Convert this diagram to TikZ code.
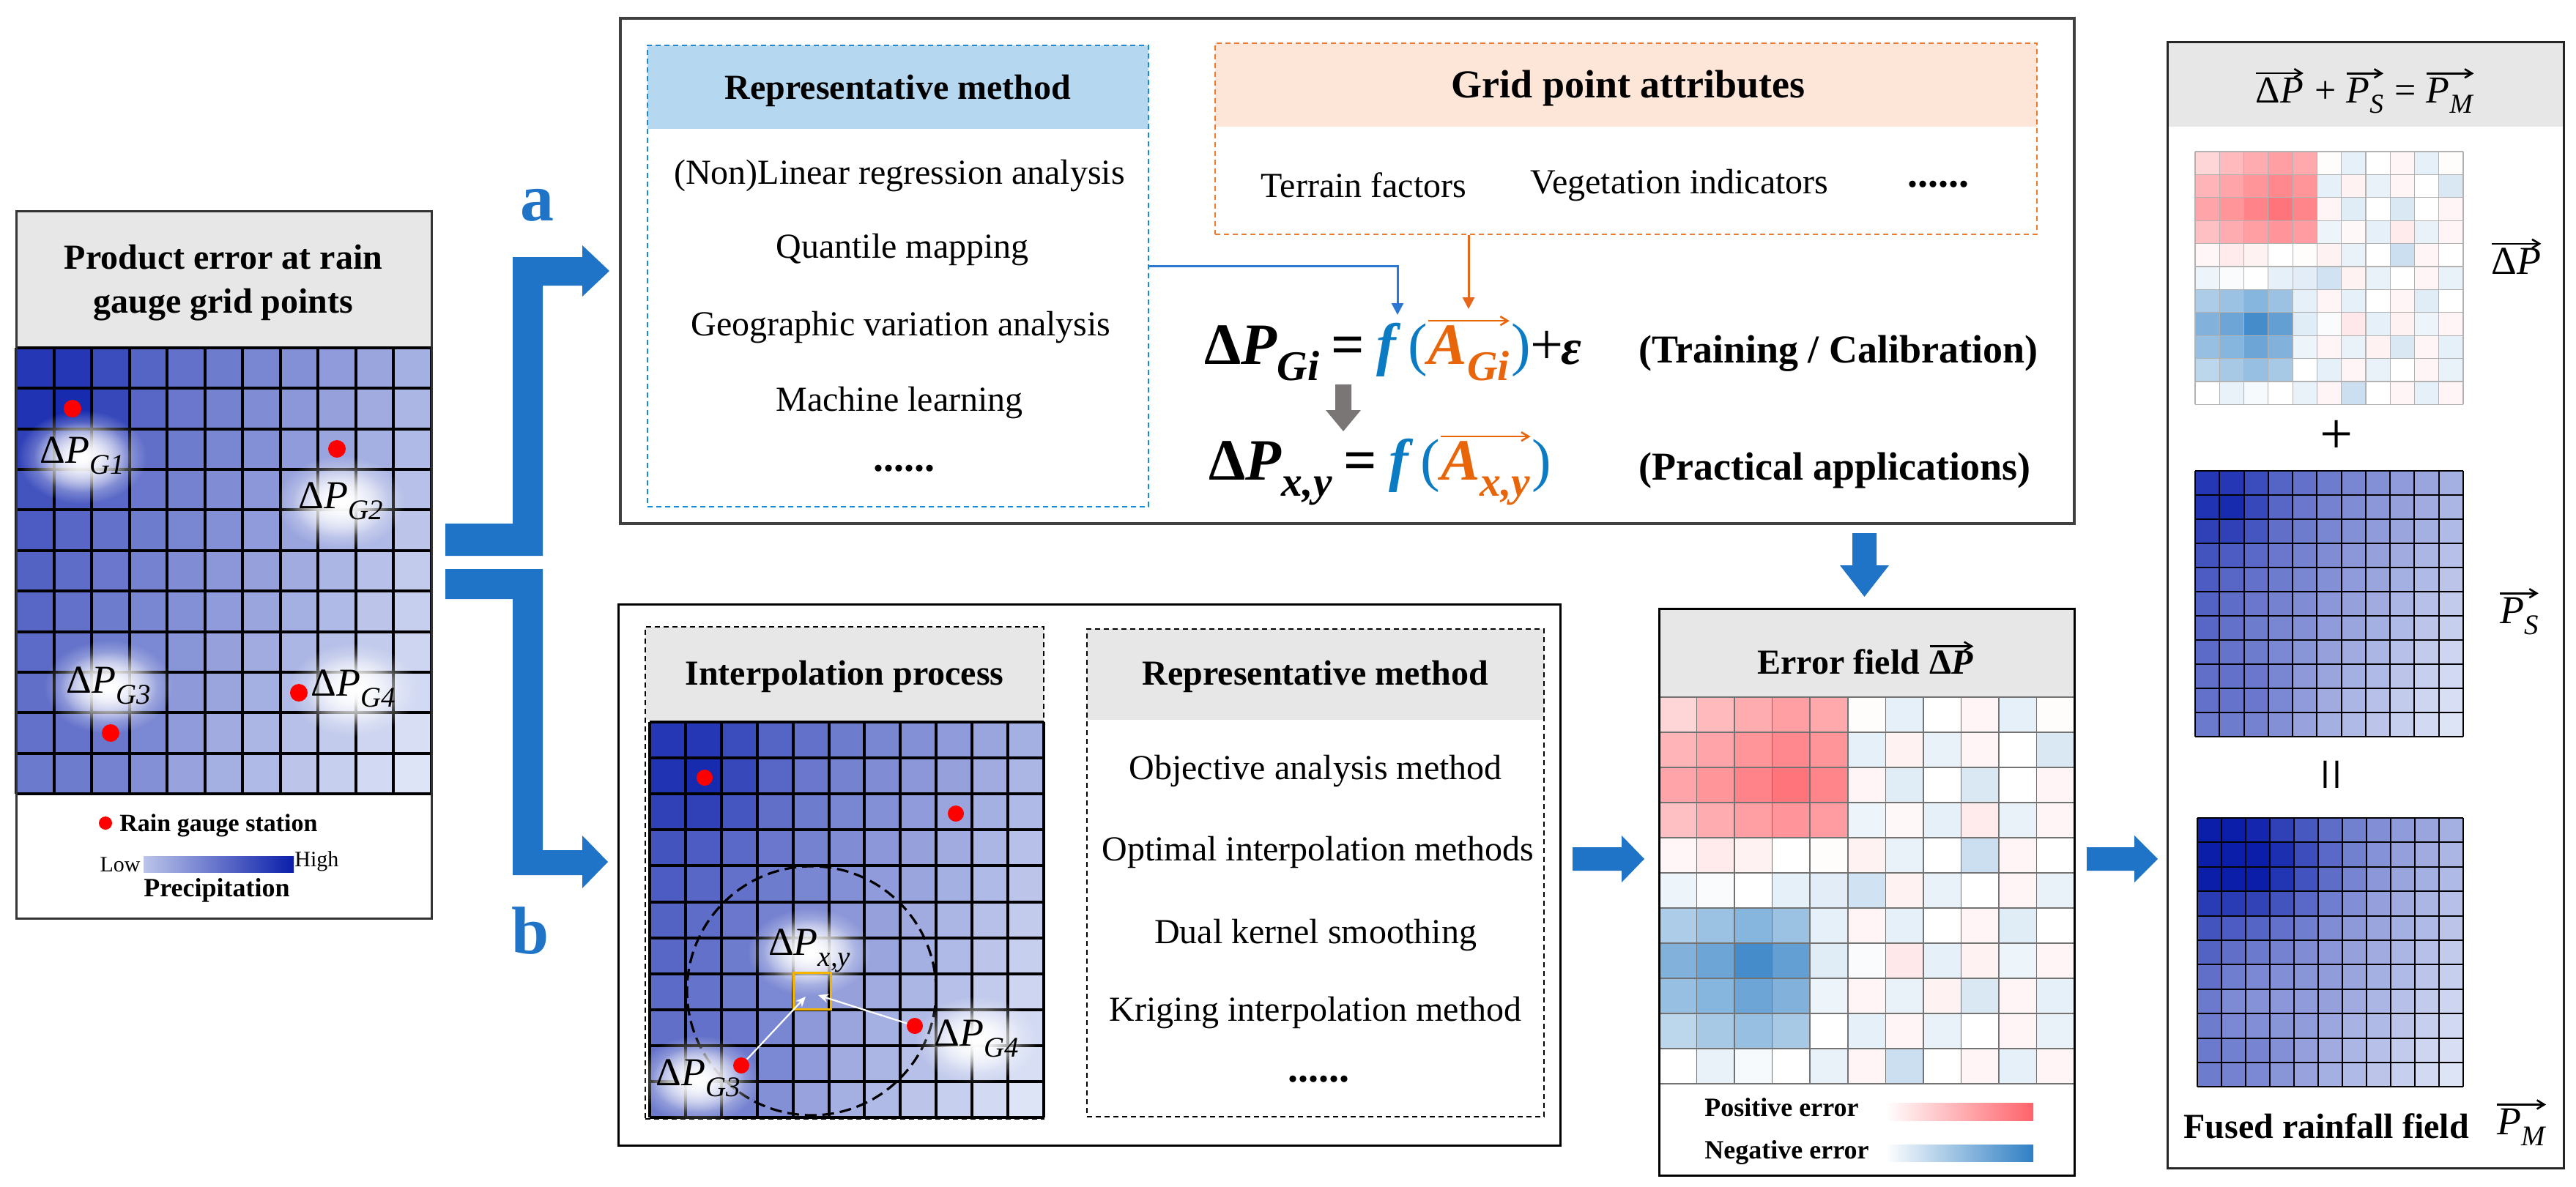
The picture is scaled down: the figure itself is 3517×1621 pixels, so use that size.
\documentclass[tikz,border=0pt]{standalone}
\usepackage{fontspec}
\setmainfont{Liberation Serif}
\usepackage{graphicx}
\usetikzlibrary{arrows.meta,fit,calc,fadings}

\definecolor{pdark}{HTML}{0A1EAA}
\definecolor{plight}{HTML}{E8EEFA}
\definecolor{errred}{HTML}{FF5A62}
\definecolor{errblue}{HTML}{2F7FC4}
\definecolor{arrowblue}{HTML}{1F74C8}
\definecolor{dashblue}{HTML}{1A8AD4}
\definecolor{dashorange}{HTML}{F07A2A}
\definecolor{hdrblue}{HTML}{B5D8F0}
\definecolor{hdrorange}{HTML}{FDE6D8}
\definecolor{hdrgray}{HTML}{E7E7E7}
\definecolor{fblue}{HTML}{0B7BC4}
\definecolor{aorange}{HTML}{E8650A}
\definecolor{conblue}{HTML}{2A78D2}
\definecolor{conorange}{HTML}{E8661A}
\definecolor{arrgray}{HTML}{7B7676}
\definecolor{ybox}{HTML}{F5B400}

\tikzfading[name=glowfade, inner color=transparent!0, outer color=transparent!100]

\newcommand\fsbody{\fontsize{24}{28}\selectfont}
\newcommand\fstitle{\fontsize{24}{30}\selectfont\bfseries}
\newcommand\fseq{\fontsize{40}{48}\selectfont}
\newcommand\fseqt{\fontsize{27}{32}\selectfont\bfseries}
\newcommand\fslab{\fontsize{27}{32}\selectfont}

\newcommand\bi[1]{\textbf{\textit{#1}}}
\newcommand\lsub[1]{\raisebox{-0.28em}{\scalebox{0.72}{#1}}}
\newcommand\dP[1]{Δ\textit{P}\lsub{\textit{#1}}}
\newcommand\vecarrow[2][black]{\tikz[baseline=(vecin.base)]{\node[inner sep=0pt,outer sep=0pt] (vecin) {#2};\draw[#1,line width=1.3pt,-{Straight Barb[length=5pt,width=6pt]}] ([yshift=3pt]vecin.north west) -- ([yshift=3pt]vecin.north east);}}

% precipitation grid: x0,y0,w,h,linewidth,mode
\newcommand\pgrid[6]{%
  \foreach \pr in {0,...,10}{%
    \foreach \pc in {0,...,10}{%
      \pgfmathtruncatemacro\pgs{max(0,min(100, 80 - 5*\pc - 2.5*\pr
        + 22*exp(max(-9,-((\pc-1)^2+(\pr-1)^2)/2))
        + 10*exp(max(-9,-((\pc-2)^2+(\pr-9)^2)/3))
        + #6*(32*exp(max(-9,-((\pc-2)^2/10+(\pr-1.5)^2/4))) - 12*exp(max(-9,-((\pc-1.5)^2/4+(\pr-7.5)^2/4))))))}%
      \fill[pdark!\pgs!plight] ({#1+\pc*#3},{#2+\pr*#4}) rectangle ++(#3,#4);
    }%
  }%
  \foreach \i in {0,...,11}{%
    \draw[black,line width=#5] ({#1+\i*#3},#2) -- ({#1+\i*#3},{#2+11*#4});
    \draw[black,line width=#5] (#1,{#2+\i*#4}) -- ({#1+11*#3},{#2+\i*#4});
  }%
}

% error grid: x0,y0,w,h,linecolor,linewidth
\newcommand\egrid[6]{%
  \foreach \erow [count=\pr from 0] in {%
    {25,42,50,58,52,2,-12,0,6,-12,2},%
    {45,55,65,72,65,-12,8,-10,6,0,-18},%
    {55,65,75,85,74,6,-15,0,-18,0,6},%
    {38,50,58,64,60,-8,4,-12,12,-10,6},%
    {5,12,8,0,2,8,-10,0,-25,6,0},%
    {-8,-3,0,-12,-14,-22,8,-10,0,6,-10},%
    {-40,-48,-58,-48,-12,6,-12,0,6,-15,0},%
    {-60,-70,-90,-75,-15,-3,14,-12,8,-8,6},%
    {-50,-58,-70,-60,-8,6,-10,8,-18,6,-12},%
    {-32,-42,-50,-42,0,-12,6,-10,0,6,-10},%
    {0,-10,-4,0,-10,6,-25,0,6,-12,6}}{%
    \foreach \ev [count=\pc from 0] in \erow {%
      \pgfmathtruncatemacro\ea{abs(\ev)}%
      \ifnum\ev<0 \def\ecol{errblue}\else\def\ecol{errred}\fi
      \fill[\ecol!\ea!white] ({#1+\pc*#3},{#2+\pr*#4}) rectangle ++(#3,#4);
    }%
  }%
  \foreach \i in {0,...,11}{%
    \draw[#5,line width=#6] ({#1+\i*#3},#2) -- ({#1+\i*#3},{#2+11*#4});
    \draw[#5,line width=#6] (#1,{#2+\i*#4}) -- ({#1+11*#3},{#2+\i*#4});
  }%
}

\newcommand\glow[4]{%
  \fill[white, path fading=glowfade] (#1,#2) ellipse [x radius={#3pt}, y radius={#4pt}];
  \fill[white, path fading=glowfade] (#1,#2) ellipse [x radius={0.75*#3pt}, y radius={0.75*#4pt}];
}

\begin{document}
\begin{tikzpicture}[x=0.5pt,y=-0.5pt,
  panel/.style={inner sep=0pt, draw=black!80, line width=1.5pt},
  dashbox/.style={inner sep=0pt, line width=1.3pt, dash pattern=on 3.5pt off 2.5pt},
  reddot/.style={circle, fill=red, inner sep=0pt, minimum size=12pt},
  smalldot/.style={circle, fill=red, inner sep=0pt, minimum size=11pt},
  whitearrow/.style={white, line width=1.1pt, -{Stealth[length=7pt,width=6pt]}},
  bluecon/.style={conblue, line width=1.5pt, -{Triangle[length=8pt,width=8pt]}},
  orangecon/.style={conorange, line width=1.5pt, -{Triangle[length=8pt,width=8pt]}},
  titletext/.style={font=\fstitle, inner sep=0pt},
  bodytext/.style={font=\fsbody, inner sep=0pt},
  lab/.style={font=\fslab, inner sep=0pt}]
\useasboundingbox (0,0) rectangle (3517,1621);

% ================= left panel =================
\fill[hdrgray] (22,289) rectangle (589,475);
\pgrid{22}{475}{51.545}{55.36}{2pt}{0}
\node[panel, fit={(22,289)(589,1254)}] (leftpanel) {};
\node[titletext, align=center] (lefttitle) at (305,386) {Product error at rain\\gauge grid points};
\glow{112}{624}{44}{32}
\glow{465}{686}{44}{32}
\glow{148}{938}{44}{32}
\glow{482}{942}{44}{32}
\node[reddot] (g1) at (99,558) {};
\node[reddot] (g2) at (460,613) {};
\node[reddot] (g3) at (151,1001) {};
\node[reddot] (g4) at (408,946) {};
\node[lab] (lg1) at (112,622) {\dP{G1}};
\node[lab] (lg2) at (465,684) {\dP{G2}};
\node[lab] (lg3) at (148,936) {\dP{G3}};
\node[lab] (lg4) at (482,940) {\dP{G4}};
\node[circle, fill=red, inner sep=0pt, minimum size=9pt] (legdot) at (144,1124) {};
\node[anchor=west, font=\fontsize{17}{20}\selectfont\bfseries, inner sep=0pt] (legrain) at (163,1127) {Rain gauge station};
\shade[left color=pdark!20!plight, right color=pdark] (196,1169) rectangle (401,1191);
\node[anchor=east, font=\fontsize{15}{18}\selectfont, inner sep=0pt] (leglow) at (192,1181) {Low};
\node[anchor=west, font=\fontsize{15}{18}\selectfont, inner sep=0pt] (leghigh) at (402,1176) {High};
\node[font=\fontsize{18}{21}\selectfont\bfseries, inner sep=0pt] (legprec) at (296,1216) {Precipitation};

% ================= fork arrows =================
\fill[arrowblue] (608,715) -- (700,715) -- (700,351) -- (795,351) -- (795,335) -- (832,370) -- (795,405) -- (795,390) -- (741,390) -- (741,759) -- (608,759) -- cycle;
\fill[arrowblue] (608,777) -- (741,777) -- (741,1161) -- (795,1161) -- (795,1141) -- (830,1177) -- (795,1213) -- (795,1195) -- (700,1195) -- (700,818) -- (608,818) -- cycle;
\node[text=arrowblue, font=\fontsize{46}{50}\selectfont\bfseries, inner sep=0pt] (la) at (733,280) {a};
\node[text=arrowblue, font=\fontsize{46}{50}\selectfont\bfseries, inner sep=0pt] (lb) at (724,1271) {b};

% ================= top panel (a) =================
\node[panel, draw=black!75, line width=1.75pt, fit={(847,25)(2832,715)}] (toppanel) {};
\fill[hdrblue] (884,62) rectangle (1568,176);
\node[dashbox, draw=dashblue, fit={(884,62)(1568,692)}] (bluebox) {};
\node[titletext] (bluetitle) at (1226,124) {Representative method};
\node[bodytext] (m1) at (1228,240) {(Non)Linear regression analysis};
\node[bodytext] (m2) at (1232,341) {Quantile mapping};
\node[bodytext] (m3) at (1230,447) {Geographic variation analysis};
\node[bodytext] (m4) at (1228,550) {Machine learning};
\node[bodytext, font=\fontsize{28}{30}\selectfont\bfseries] (m5) at (1234,640) {......};

\fill[hdrorange] (1659,59) rectangle (2781,173);
\node[dashbox, draw=dashorange, fit={(1659,59)(2781,320)}] (orangebox) {};
\node[titletext, font=\fontsize{27}{32}\selectfont\bfseries] (orangetitle) at (2223,121) {Grid point attributes};
\node[bodytext] (a1) at (1862,253) {Terrain factors};
\node[bodytext] (a2) at (2293,253) {Vegetation indicators};
\node[bodytext, font=\fontsize{28}{30}\selectfont\bfseries] (a3) at (2646,252) {......};

\node[anchor=base west, font=\fseq, inner sep=0pt] (eqone) at (1644,497)
  {\bfseries Δ\bi{P}\lsub{\bi{Gi}}\hspace{0.2em}=\hspace{0.2em}\textcolor{fblue}{\bi{f}\hspace{0.12em}{\mdseries(}}\vecarrow[aorange]{\textcolor{aorange}{\bi{A}\lsub{\bi{Gi}}}}\textcolor{fblue}{\mdseries)}{\mdseries+}\hspace{-0.04em}\scalebox{0.85}{\bi{ε}}};
\node[anchor=base west, font=\fseqt, inner sep=0pt] (eqonelab) at (2237,495) {(Training / Calibration)};
\node[anchor=base west, font=\fseq, inner sep=0pt] (eqtwo) at (1650,655)
  {\bfseries Δ\bi{P}\lsub{\bi{x,y}}\hspace{0.2em}=\hspace{0.2em}\textcolor{fblue}{\bi{f}\hspace{0.12em}{\mdseries(}}\vecarrow[aorange]{\textcolor{aorange}{\bi{A}\lsub{\bi{x,y}}}}\textcolor{fblue}{\mdseries)}};
\node[anchor=base west, font=\fseqt, inner sep=0pt] (eqtwolab) at (2237,655) {(Practical applications)};
\fill[arrgray] (1823,525) -- (1845,525) -- (1845,560) -- (1858,560) -- (1834,589) -- (1810,560) -- (1823,560) -- cycle;

\coordinate (fpt) at (1908,430);
\coordinate (apt) at (2005,422);
\draw[bluecon] ([yshift=7pt]bluebox.east) -| (fpt);
\draw[orangecon] (orangebox.south -| apt) -- (apt);

% ================= bottom panel (b) =================
\node[panel, draw=black, fit={(844,825)(2130,1564)}] (botpanel) {};
\fill[hdrgray] (881,856) rectangle (1425,983);
\pgrid{887}{986}{48.9}{49.1}{2pt}{0}
\node[dashbox, draw=black, fit={(881,856)(1425,1528)}] (interpbox) {};
\node[titletext] (interptitle) at (1153,924) {Interpolation process};
\draw[black, line width=1.6pt, dash pattern=on 8pt off 4pt] (1108,1353) circle [radius=85pt];
\glow{1105}{1300}{42}{30}
\glow{1333}{1420}{42}{30}
\glow{953}{1474}{42}{30}
\node[smalldot] (d1) at (962,1062) {};
\node[smalldot] (d2) at (1305,1111) {};
\node[smalldot] (d4) at (1249,1401) {};
\node[smalldot] (d3) at (1012,1455) {};
\node[draw=ybox, line width=1.5pt, inner sep=0pt, fit={(1083,1328)(1134,1378)}] (target) {};
\coordinate (ta) at (1100,1361);
\coordinate (tb) at (1117,1359);
\draw[whitearrow] (d3) -- (ta);
\draw[whitearrow] (d4) -- (tb);
\node[lab] (lxy) at (1105,1298) {\dP{x,y}};
\node[lab] (lgb4) at (1333,1418) {\dP{G4}};
\node[lab] (lgb3) at (953,1472) {\dP{G3}};

\fill[hdrgray] (1484,859) rectangle (2108,983);
\node[dashbox, draw=black, fit={(1484,859)(2108,1525)}] (rmbox) {};
\node[titletext] (rmtitle) at (1796,924) {Representative method};
\node[bodytext] (r1) at (1796,1053) {Objective analysis method};
\node[bodytext] (r2) at (1799,1164) {Optimal interpolation methods};
\node[bodytext] (r3) at (1796,1277) {Dual kernel smoothing};
\node[bodytext] (r4) at (1796,1383) {Kriging interpolation method};
\node[bodytext, font=\fontsize{28}{30}\selectfont\bfseries] (r5) at (1800,1474) {......};

% ================= error field =================
\fill[hdrgray] (2265,831) rectangle (2832,952);
\egrid{2265}{952}{51.545}{48}{black!55}{0.8pt}
\node[panel, draw=black, fit={(2265,831)(2832,1605)}] (errpanel) {};
\node[titletext] (errtitle) at (2548,898) {Error field \vecarrow{Δ\textit{P}}};
\node[anchor=west, font=\fontsize{18}{21}\selectfont\bfseries, inner sep=0pt] (legpos) at (2327,1512) {Positive error};
\shade[left color=white, right color=errred!95] (2574,1506) rectangle (2776,1530);
\node[anchor=west, font=\fontsize{18}{21}\selectfont\bfseries, inner sep=0pt] (legneg) at (2327,1574) {Negative error};
\shade[left color=white, right color=errblue] (2574,1563) rectangle (2776,1586);

% ================= right column =================
\fill[hdrgray] (2959,58) rectangle (3500,173);
\node[panel, draw=black!85, fit={(2959,58)(3500,1595)}] (rightpanel) {};
\node[font=\fontsize{26}{30}\selectfont, inner sep=0pt] (rhead) at (3229,124)
  {\vecarrow{Δ\textit{P}} + \vecarrow{\textit{P}\lsub{\textit{S}}} = \vecarrow{\textit{P}\lsub{\textit{M}}}};
\egrid{2997}{207}{33.27}{31.4}{black!30}{0.6pt}
\node[lab] (ldp) at (3436,350) {\vecarrow{Δ\textit{P}}};
\node[font=\fontsize{40}{44}\selectfont, inner sep=0pt] (plus) at (3190,597) {+};
\pgrid{2997}{643}{33.27}{33}{1pt}{0}
\node[lab] (lps) at (3440,835) {\vecarrow{\textit{P}\lsub{\textit{S}}}};
\node[font=\fontsize{40}{44}\selectfont, inner sep=0pt, rotate=90] (eqsign) at (3191,1058) {=};
\pgrid{3000}{1117}{33}{33.4}{1pt}{1}
\node[titletext] (fused) at (3176,1538) {Fused rainfall field};
\node[lab] (lpm) at (3443,1533) {\vecarrow{\textit{P}\lsub{\textit{M}}}};

% ================= block arrows =================
\fill[arrowblue] (2529,728) -- (2562,728) -- (2562,772) -- (2579,772) -- (2545.5,815) -- (2512,772) -- (2529,772) -- cycle;
\fill[arrowblue] (2147,1157) -- (2214,1157) -- (2214,1141) -- (2245,1173) -- (2214,1205) -- (2214,1189) -- (2147,1189) -- cycle;
\fill[arrowblue] (2849,1157) -- (2914,1157) -- (2914,1141) -- (2946,1173) -- (2914,1205) -- (2914,1189) -- (2849,1189) -- cycle;
\end{tikzpicture}
\end{document}
